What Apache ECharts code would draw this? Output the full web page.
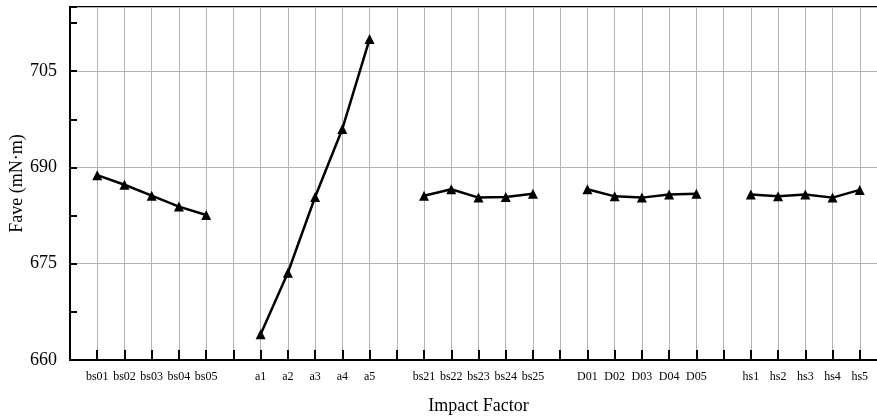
<!DOCTYPE html>
<html>
<head>
<meta charset="utf-8">
<script src="https://cdn.jsdelivr.net/npm/echarts@6/dist/echarts.min.js"></script>
<style>
html,body{margin:0;padding:0;background:#fff;}
#chart{width:877px;height:416px;}
</style>
</head>
<body>
<div id="chart"></div>
<script>
const categories = ['', 'bs01','bs02','bs03','bs04','bs05', '', 'a1','a2','a3','a4','a5', '', 'bs21','bs22','bs23','bs24','bs25', '', 'D01','D02','D03','D04','D05', '', 'hs1','hs2','hs3','hs4','hs5', ''];
const faveValues = [null, 688.8, 687.3, 685.6, 683.9, 682.6, null, 664.0, 673.6, 685.4, 696.0, 710.0, null, 685.6, 686.6, 685.3, 685.4, 685.9, null, 686.6, 685.5, 685.3, 685.8, 685.9, null, 685.8, 685.5, 685.8, 685.3, 686.5, null];
const yMin = 660, yMax = 715;
const yLabelStep = 15, yTickStep = 7.5;
const xTitle = 'Impact Factor';
const yTitle = 'Fave (mN·m)';

const chart = echarts.init(document.getElementById('chart'));
const font = '"Liberation Serif", "Times New Roman", serif';
chart.setOption({
  animation: false,
  backgroundColor: '#fff',
  grid: { left: 70, top: 7, width: 817, height: 353, outerBoundsMode: 'none', containLabel: false,
          show: true, borderColor: '#000', borderWidth: 2, backgroundColor: 'transparent' },
  xAxis: {
    type: 'category',
    data: categories,
    boundaryGap: false,
    name: xTitle,
    nameLocation: 'middle',
    nameGap: 37,
    nameMoveOverlap: false,
    nameTextStyle: { fontFamily: font, fontSize: 18, color: '#000' },
    axisLine: { show: true, lineStyle: { color: '#000', width: 2 } },
    axisTick: { show: true, inside: true, length: 10, lineStyle: { color: '#000', width: 2 }, interval: 0 },
    axisLabel: { interval: 0, fontFamily: font, fontSize: 12, color: '#000', margin: 11 },
    splitLine: { show: true, interval: 0, lineStyle: { color: '#b4b4b4', width: 1 } }
  },
  yAxis: [{
    type: 'value',
    min: yMin, max: yMax, interval: yTickStep,
    name: yTitle,
    nameLocation: 'middle',
    nameGap: 44,
    nameMoveOverlap: false,
    nameTextStyle: { fontFamily: font, fontSize: 18, color: '#000' },
    axisLine: { show: true, lineStyle: { color: '#000', width: 2 } },
    axisTick: { show: true, inside: true, length: 7, lineStyle: { color: '#000', width: 2 } },
    axisLabel: { fontFamily: font, fontSize: 18, color: '#000', margin: 13, showMaxLabel: true,
      formatter: v => (Math.abs((v - yMin) % yLabelStep) < 1e-6 ? String(v) : '') },
    splitLine: { show: false }
  }, {
    type: 'value',
    min: yMin, max: yMax, interval: yLabelStep,
    position: 'left',
    axisLine: { show: false },
    axisTick: { show: false },
    axisLabel: { show: false },
    splitLine: { show: true, lineStyle: { color: '#b4b4b4', width: 1 } }
  }],
  series: [{
    type: 'line',
    data: faveValues,
    connectNulls: false,
    symbol: 'triangle',
    symbolSize: 10,
    itemStyle: { color: '#000' },
    lineStyle: { color: '#000', width: 2.5 },
    z: 5
  }]
});
</script>
</body>
</html>
